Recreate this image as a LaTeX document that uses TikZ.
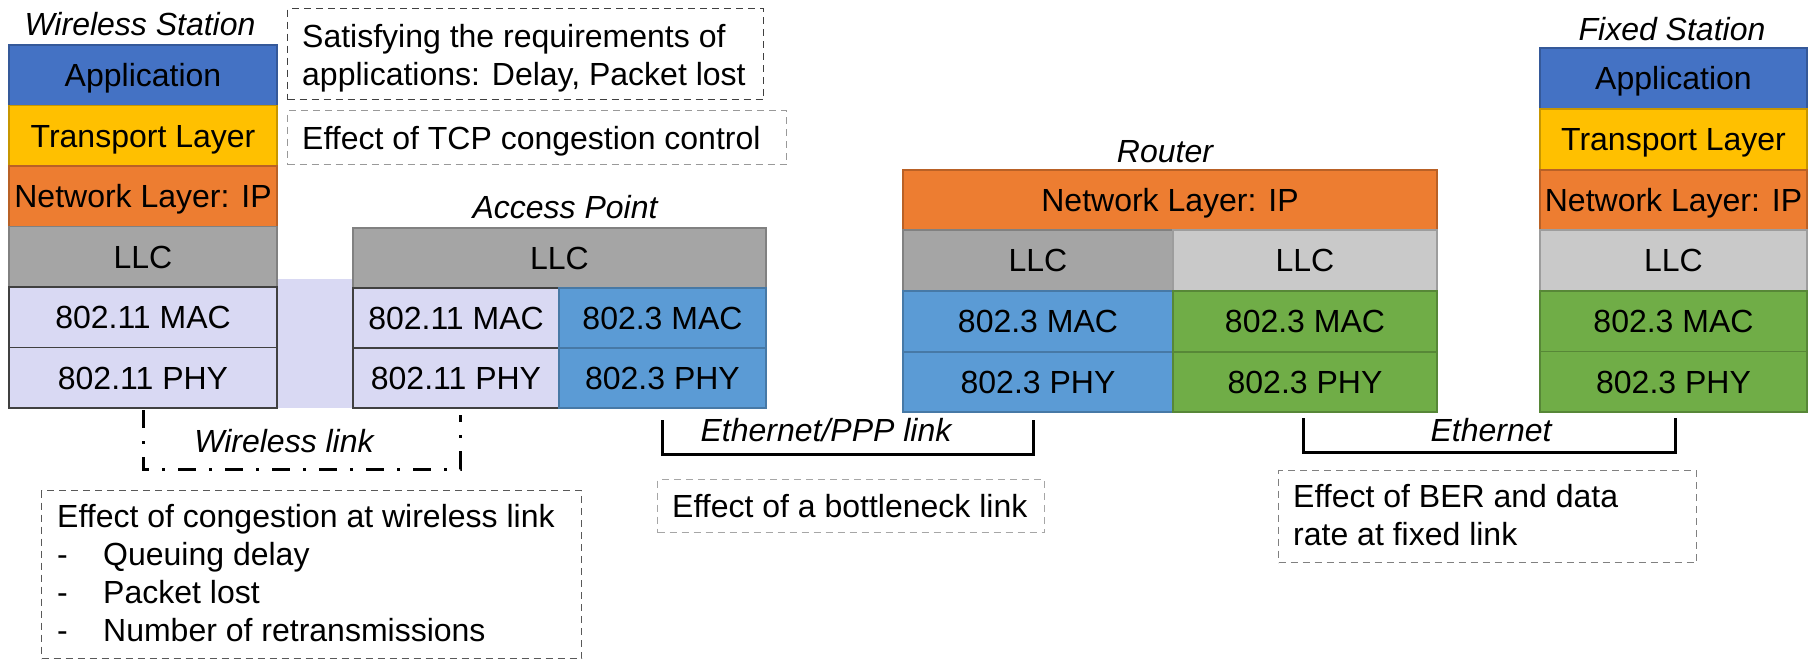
\documentclass[tikz,border=0pt]{standalone}
\usepackage{fontspec}
\setmainfont{Liberation Sans}
\definecolor{appblue}{HTML}{4472C4}
\definecolor{transyellow}{HTML}{FFC000}
\definecolor{netorange}{HTML}{ED7D31}
\definecolor{llcdark}{HTML}{A5A5A5}
\definecolor{llclight}{HTML}{C9C9C9}
\definecolor{wlan}{HTML}{D9D9F3}
\definecolor{ethblue}{HTML}{5B9BD5}
\definecolor{ethgreen}{HTML}{70AD47}
\begin{document}
\begin{tikzpicture}[x=1pt,y=-1pt,
  font=\fontsize{32}{38.3}\selectfont,
  layer/.style={anchor=north west, inner sep=0pt, outer sep=0pt, line width=1.4pt,
    text height=22.9pt, text depth=0pt},
  solidlayer/.style={layer, fill=#1, draw=#1!78!black},
  wlanlayer/.style={layer, fill=wlan, draw=black!75},
  wsbox/.style={minimum width=268pt, minimum height=60.5pt},
  fsbox/.style={minimum width=267pt, minimum height=60.5pt},
  caption/.style={font=\fontsize{32}{38.3}\selectfont\itshape, inner sep=0pt,
    text height=22.9pt, text depth=0pt},
  note/.style={anchor=north west, inner sep=0pt, draw=#1, line width=1.3pt,
    dash pattern=on 7pt off 5pt},
  notetext/.style={anchor=base west, inner sep=0pt},
  bracket/.style={line width=3pt, line join=miter},
  radiolink/.style={line width=3pt, dash pattern=on 18pt off 13pt on 3pt off 13pt},
]
\useasboundingbox (0,0) rectangle (1808,659);

% shaded air interface between the two 802.11 stacks
\fill[wlan] (277,279) rectangle (353,408);

% ---------------- Wireless station ----------------
\node[caption] (ws-label) at (140,24) {Wireless Station};
\node[solidlayer=appblue, wsbox] (ws-app) at (9,45) {Application};
\node[solidlayer=transyellow, wsbox] (ws-tr) at (9,105.5) {Transport Layer};
\node[solidlayer=netorange, wsbox] (ws-net) at (9,166) {Network Layer: IP};
\node[solidlayer=llcdark, wsbox] (ws-llc) at (9,226.5) {LLC};
\node[wlanlayer, wsbox] (ws-mac) at (9,287) {802.11 MAC};
\node[wlanlayer, wsbox] (ws-phy) at (9,347.5) {802.11 PHY};

% ---------------- Access point ----------------
\node[caption] (ap-label) at (565,207.5) {Access Point};
\node[solidlayer=llcdark, minimum width=413pt, minimum height=60pt] (ap-llc) at (353,228) {LLC};
\node[wlanlayer, minimum width=206pt, minimum height=60pt] (ap-wmac) at (353,288) {802.11 MAC};
\node[solidlayer=ethblue, minimum width=207pt, minimum height=60pt] (ap-emac) at (559,288) {802.3 MAC};
\node[wlanlayer, minimum width=206pt, minimum height=60pt] (ap-wphy) at (353,348) {802.11 PHY};
\node[solidlayer=ethblue, minimum width=207pt, minimum height=60pt] (ap-ephy) at (559,348) {802.3 PHY};

% ---------------- Router ----------------
\node[caption] (rt-label) at (1165,151) {Router};
\node[solidlayer=netorange, minimum width=534pt, minimum height=60pt] (rt-net) at (903,170) {Network Layer: IP};
\node[solidlayer=llcdark, minimum width=270pt, minimum height=61pt] (rt-llc1) at (903,230) {LLC};
\node[solidlayer=llclight, minimum width=264pt, minimum height=61pt] (rt-llc2) at (1173,230) {LLC};
\node[solidlayer=ethblue, minimum width=270pt, minimum height=61pt] (rt-mac1) at (903,291) {802.3 MAC};
\node[solidlayer=ethgreen, minimum width=264pt, minimum height=61pt] (rt-mac2) at (1173,291) {802.3 MAC};
\node[solidlayer=ethblue, minimum width=270pt, minimum height=60pt] (rt-phy1) at (903,352) {802.3 PHY};
\node[solidlayer=ethgreen, minimum width=264pt, minimum height=60pt] (rt-phy2) at (1173,352) {802.3 PHY};

% ---------------- Fixed station ----------------
\node[caption] (fs-label) at (1672,29.5) {Fixed Station};
\node[solidlayer=appblue, fsbox] (fs-app) at (1540,48) {Application};
\node[solidlayer=transyellow, fsbox] (fs-tr) at (1540,109) {Transport Layer};
\node[solidlayer=netorange, fsbox] (fs-net) at (1540,170) {Network Layer: IP};
\node[solidlayer=llclight, fsbox] (fs-llc) at (1540,230) {LLC};
\node[solidlayer=ethgreen, fsbox] (fs-mac) at (1540,291) {802.3 MAC};
\node[solidlayer=ethgreen, fsbox] (fs-phy) at (1540,351.5) {802.3 PHY};

% ---------------- Links ----------------
\coordinate (wl-a) at (143,410);
\coordinate (wl-b) at (143,469);
\coordinate (wl-c) at (460,469);
\coordinate (wl-d) at (460,415);
\draw[radiolink] (wl-a) -- (wl-b) -- (wl-c) -- (wl-d);
\node[caption] (wl-label) at (284,441.5) {Wireless link};

\coordinate (ppp-a) at (662,420);
\coordinate (ppp-b) at (662,454);
\coordinate (ppp-c) at (1033,454);
\coordinate (ppp-d) at (1033,420);
\draw[bracket] (ppp-a) -- (ppp-b) -- (ppp-c) -- (ppp-d);
\node[caption] (ppp-label) at (826,430.5) {Ethernet/PPP link};

\coordinate (eth-a) at (1303,418);
\coordinate (eth-b) at (1303,452);
\coordinate (eth-c) at (1675,452);
\coordinate (eth-d) at (1675,418);
\draw[bracket] (eth-a) -- (eth-b) -- (eth-c) -- (eth-d);
\node[caption] (eth-label) at (1491,430) {Ethernet};

% ---------------- Annotations ----------------
\node[note=black!75, minimum width=476pt, minimum height=91pt] (req) at (287,8) {};
\node[notetext] (req-txt) at (302,47)
  {\begin{tabular}[t]{@{}l@{}}Satisfying the requirements of\\applications: Delay, Packet lost\end{tabular}};

\node[note=black!40, minimum width=499pt, minimum height=54pt] (tcp) at (287,110) {};
\node[notetext] (tcp-txt) at (302,149) {Effect of TCP congestion control};

\node[note=black!65, minimum width=540pt, minimum height=168pt] (cong) at (41,490) {};
\node[notetext] (cong-txt) at (57,527)
  {\begin{tabular}[t]{@{}l@{}}Effect of congestion at wireless link\\
   \makebox[46pt][l]{-}Queuing delay\\
   \makebox[46pt][l]{-}Packet lost\\
   \makebox[46pt][l]{-}Number of retransmissions\end{tabular}};

\node[note=black!35, minimum width=387pt, minimum height=53pt] (neck) at (657,479) {};
\node[notetext] (neck-txt) at (672,517) {Effect of a bottleneck link};

\node[note=black!50, minimum width=418pt, minimum height=92pt] (ber) at (1278,470) {};
\node[notetext] (ber-txt) at (1293,507)
  {\begin{tabular}[t]{@{}l@{}}Effect of BER and data\\rate at fixed link\end{tabular}};
\end{tikzpicture}
\end{document}
